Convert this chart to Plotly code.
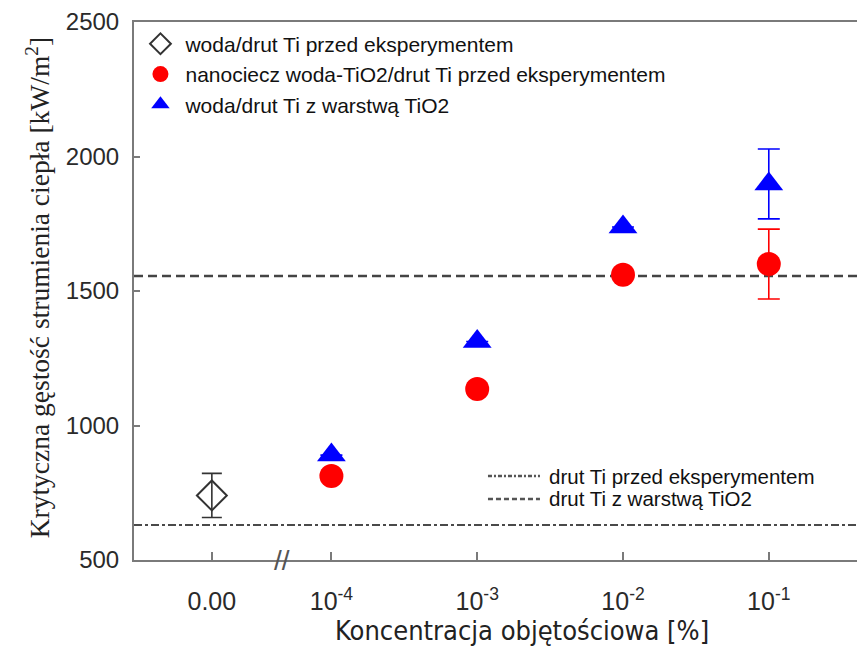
import plotly.graph_objects as go

# Positions on the x axis: decades of concentration, with the pure-water point
# placed left of the axis break.
x_labels = ["0.00", "10<sup>-4</sup>", "10<sup>-3</sup>", "10<sup>-2</sup>", "10<sup>-1</sup>"]
x_pos = [-4.82, -4, -3, -2, -1]
x_break = -4.34

# Critical heat flux [kW/m2]
water_x = [-4.82]
water_chf = [740]
water_err = [82]

nano_x = [-4, -3, -2, -1]
nano_chf = [812, 1136, 1560, 1600]
nano_err = [None, None, None, 130]

coated_x = [-4, -3, -2, -1]
coated_chf = [890, 1312, 1738, 1898]
coated_err = [None, None, None, 130]

bare_wire_ref = 630
coated_wire_ref = 1556

x_range = [-5.354, -0.395]
y_range = [500, 2500]
y_ticks = [500, 1000, 1500, 2000, 2500]

names = [
    "woda/drut Ti przed eksperymentem",
    "nanociecz woda-TiO2/drut Ti przed eksperymentem",
    "woda/drut Ti z warstwą TiO2",
]
ref_names = ["drut Ti przed eksperymentem", "drut Ti z warstwą TiO2"]

AXIS = "#7a7a7a"
SANS = "Liberation Sans, Arial, sans-serif"
DASHDOT = "8px,3px,3px,3px"
DASH = "9px,5px"

fig = go.Figure()

# Reference levels for the plain and coated wire
fig.add_trace(go.Scatter(
    x=x_range, y=[bare_wire_ref] * 2, mode="lines", showlegend=False,
    line=dict(color="#4a4a4a", width=2, dash=DASHDOT),
    hoverinfo="skip"))
fig.add_trace(go.Scatter(
    x=x_range, y=[coated_wire_ref] * 2, mode="lines", showlegend=False,
    line=dict(color="#444444", width=2.5, dash=DASH),
    hoverinfo="skip"))

fig.add_trace(go.Scatter(
    x=water_x, y=water_chf, mode="markers", name=names[0],
    marker=dict(symbol="diamond-open", size=23, color="#333333",
                line=dict(width=2, color="#333333")),
    error_y=dict(type="data", array=water_err, visible=True,
                 color="#333333", thickness=1.6, width=10)))
fig.add_trace(go.Scatter(
    x=nano_x, y=nano_chf, mode="markers", name=names[1],
    marker=dict(symbol="circle", size=24, color="#ff0000"),
    error_y=dict(type="data", array=nano_err, visible=True,
                 color="#ff0000", thickness=1.6, width=11)))
fig.add_trace(go.Scatter(
    x=coated_x, y=coated_chf, mode="markers", name=names[2],
    marker=dict(symbol="triangle-up", size=25, color="#0000ff"),
    error_y=dict(type="data", array=coated_err, visible=True,
                 color="#0000ff", thickness=1.6, width=11)))

annotations = [
    # axis break mark
    dict(x=x_break, y=0, xref="x", yref="paper", text="//", showarrow=False,
         font=dict(family=SANS, size=28, color="#555555"),
         xanchor="center", yanchor="middle"),
    dict(x=0.537, y=-0.131, xref="paper", yref="paper",
         text="Koncentracja objętościowa [%]", showarrow=False,
         font=dict(family="DejaVu Sans Condensed, DejaVu Sans, sans-serif",
                   size=27, color="#222222"),
         xanchor="center", yanchor="middle"),
    dict(x=-0.132, y=0.506, xref="paper", yref="paper", textangle=-90,
         text="Krytyczna gęstość strumienia ciepła [kW/m<sup>2</sup>]",
         showarrow=False,
         font=dict(family="Liberation Serif, Times New Roman, serif",
                   size=27.5, color="#222222"),
         xanchor="center", yanchor="middle"),
]

# Key for the two reference levels
ref_key_y = [0.1561, 0.1134]
ref_dash = ["4px,2px,2px,2px", "5px,3px"]
shapes = []
for name, ky, dash in zip(ref_names, ref_key_y, ref_dash):
    shapes.append(dict(type="line", xref="paper", yref="paper",
                       x0=0.4896, x1=0.5615, y0=ky, y1=ky,
                       line=dict(color="#555555", width=2.5, dash=dash)))
    annotations.append(dict(x=0.571, y=ky, xref="paper", yref="paper",
                            text=name, showarrow=False,
                            font=dict(family=SANS, size=20.5, color="#111111"),
                            xanchor="left", yanchor="middle"))

fig.update_layout(
    width=857, height=648,
    margin=dict(l=134, r=0, t=22, b=88),
    paper_bgcolor="white", plot_bgcolor="white",
    showlegend=True,
    legend=dict(x=0.002, y=0.997, xanchor="left", yanchor="top",
                bgcolor="rgba(0,0,0,0)", itemwidth=40,
                font=dict(family=SANS, size=21, color="#111111")),
    xaxis=dict(range=x_range, tickmode="array", tickvals=x_pos,
               ticktext=x_labels, showgrid=False, zeroline=False,
               showline=True, linecolor=AXIS, linewidth=2, mirror=True,
               ticks="inside", ticklen=8, tickwidth=1.5, tickcolor=AXIS,
               ticklabelstandoff=18,
               tickfont=dict(family=SANS, size=25, color="#2a2a2a")),
    yaxis=dict(range=y_range, tickmode="array", tickvals=y_ticks,
               showgrid=False, zeroline=False,
               showline=True, linecolor=AXIS, linewidth=2,
               ticks="inside", ticklen=6, tickwidth=1.5, tickcolor=AXIS,
               ticklabelstandoff=8,
               tickfont=dict(family=SANS, size=24, color="#2a2a2a")),
    annotations=annotations,
    shapes=shapes,
)

fig.write_html("out.html")
